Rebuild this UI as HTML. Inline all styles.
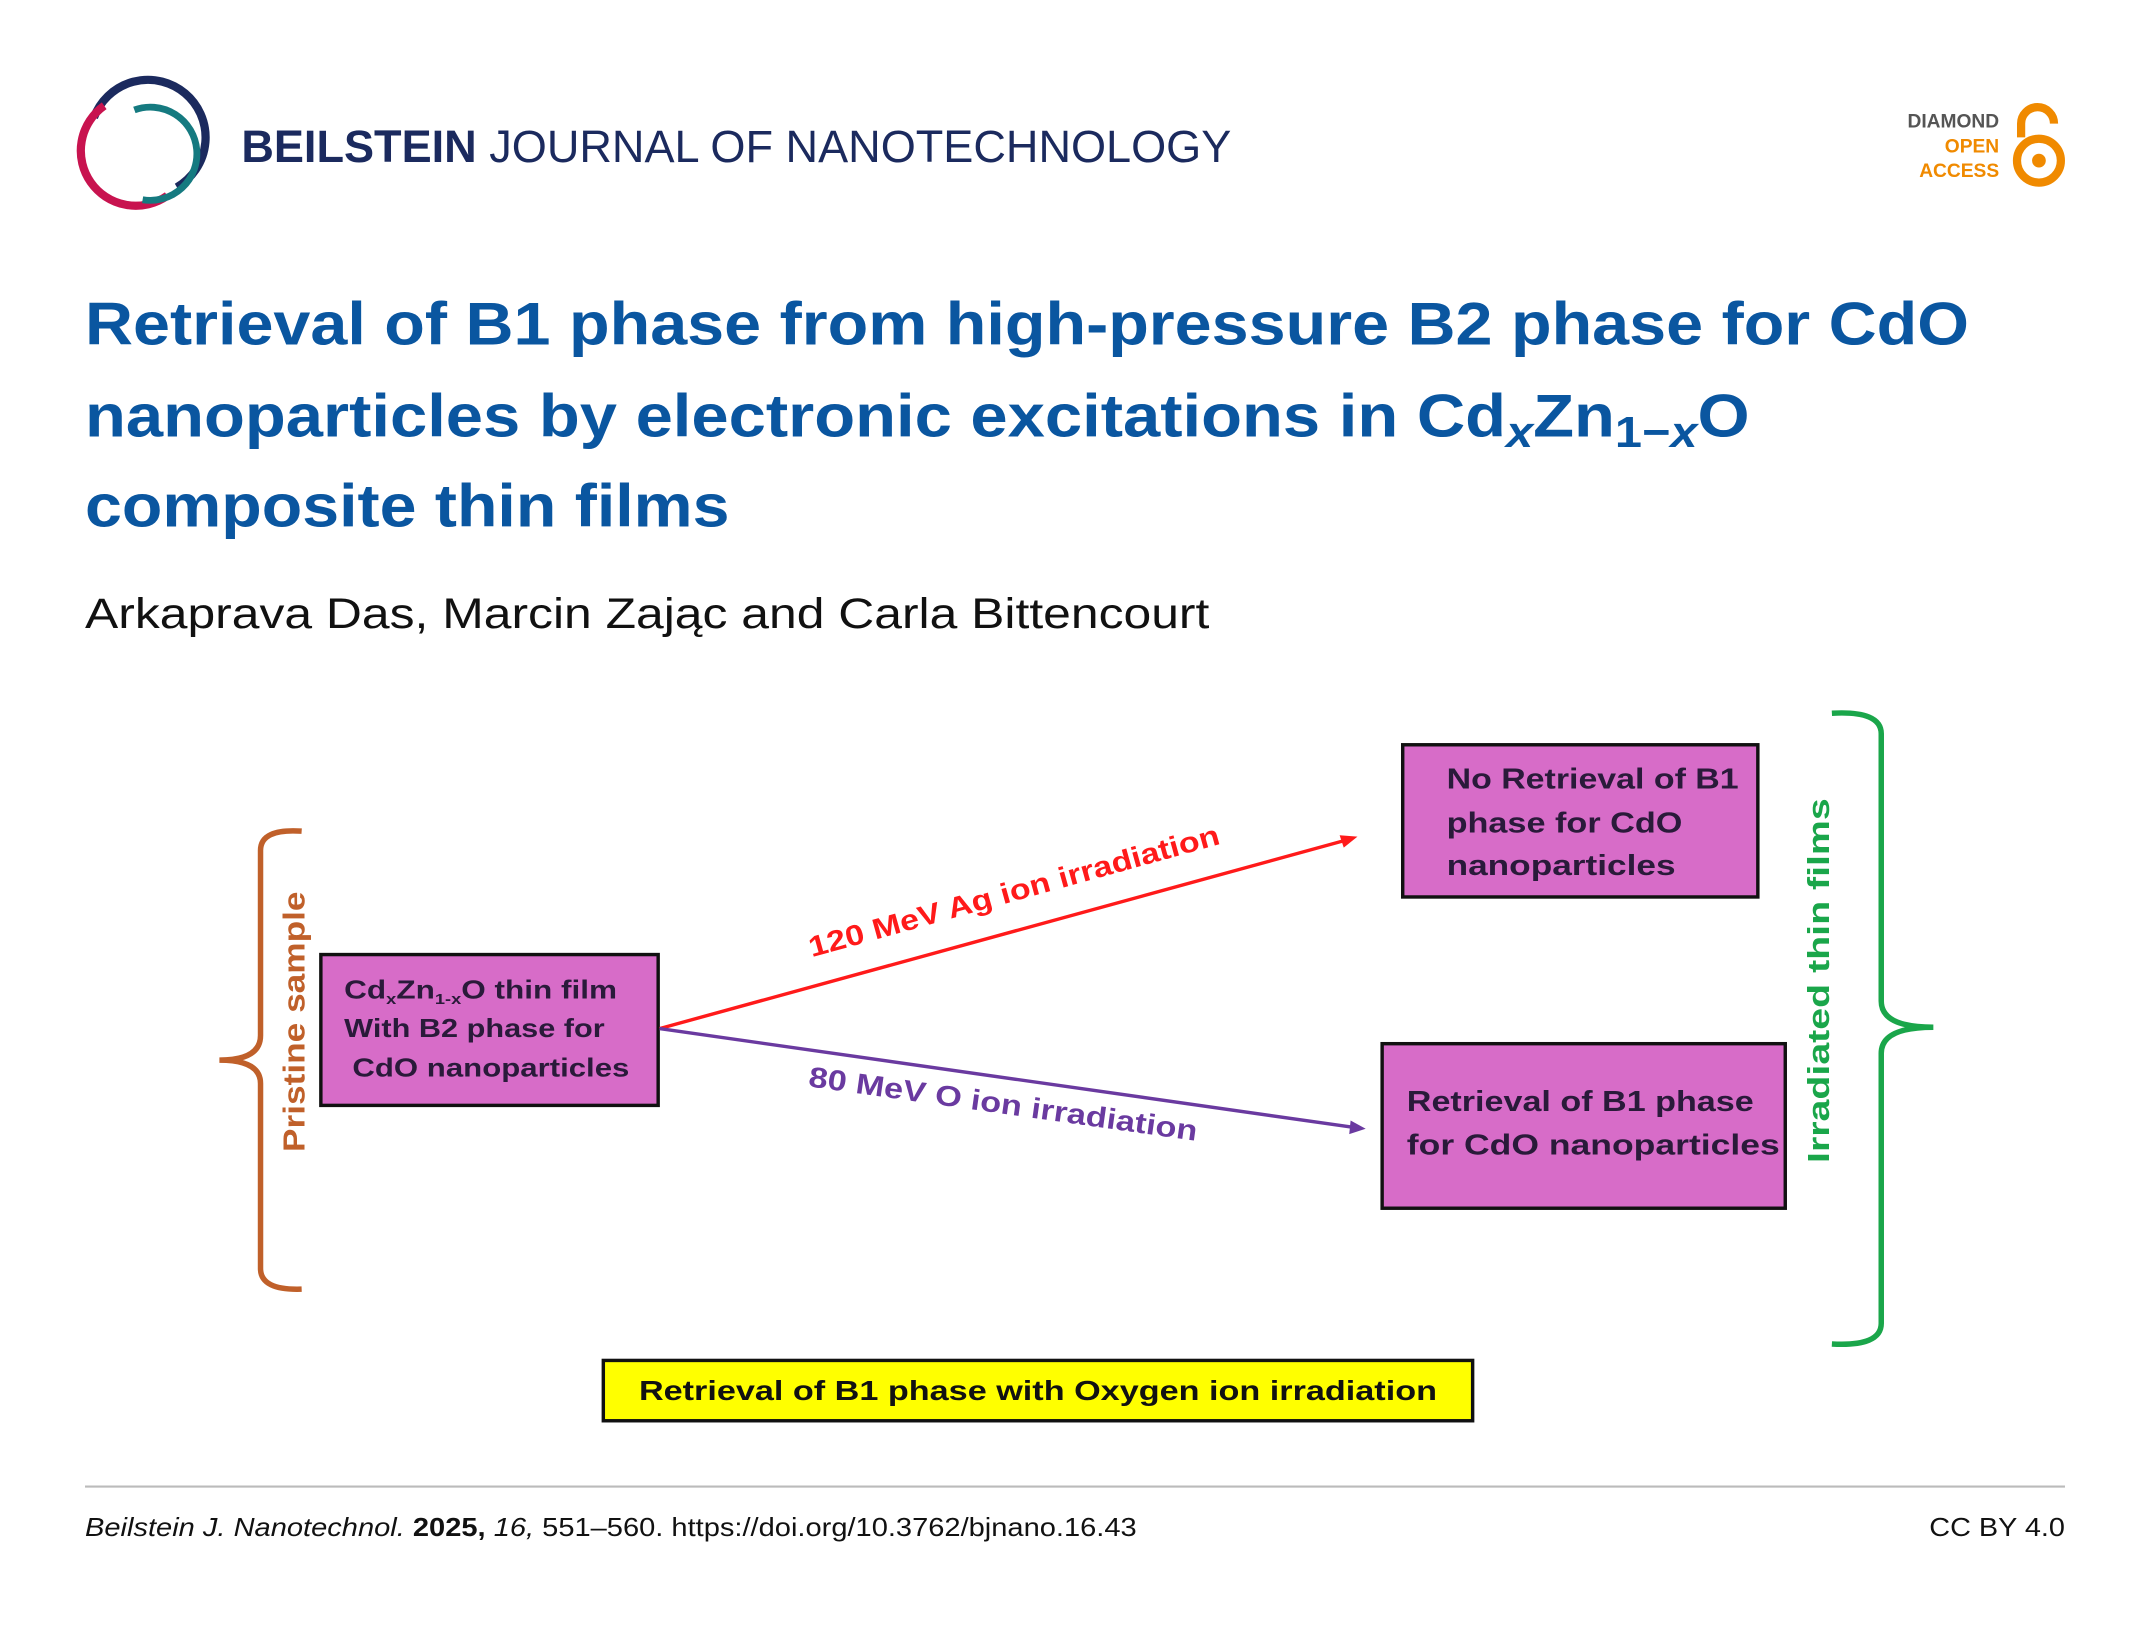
<!DOCTYPE html>
<html><head><meta charset="utf-8"><style>
html,body{margin:0;padding:0;background:#fff;}
svg{display:block;}
text{font-family:"Liberation Sans",sans-serif;}
</style></head><body>
<svg width="2150" height="1639" viewBox="0 0 1568 1195" xmlns="http://www.w3.org/2000/svg">
<g fill="none">
 <path d="M 68.5 85.6 A 42 42 0 1 1 129 136.4" stroke="#1b2a5e" stroke-width="6"/>
 <path d="M 76 77 A 40 40 0 0 0 122 142.6" stroke="#c8134f" stroke-width="6"/>
 <path d="M 98 80 A 34 34 0 1 1 104 145.5" stroke="#157a80" stroke-width="5"/>
</g>
<text x="176" y="118" font-size="33" fill="#1b2a5e" textLength="722" lengthAdjust="spacingAndGlyphs"><tspan font-weight="bold">BEILSTEIN</tspan> JOURNAL OF NANOTECHNOLOGY</text>
<g font-weight="bold" font-size="14" text-anchor="end">
 <text x="1458" y="93" fill="#555">DIAMOND</text>
 <text x="1458" y="111" fill="#f08a00">OPEN</text>
 <text x="1458" y="129" fill="#f08a00">ACCESS</text>
 <path d="M 1474 100 L 1474 90 A 12 12 0 0 1 1498 90" fill="none" stroke="#f08a00" stroke-width="6"/>
 <circle cx="1487" cy="117" r="16" fill="none" stroke="#f08a00" stroke-width="6"/>
 <circle cx="1487" cy="117" r="5" fill="#f08a00"/>
</g>
<g font-size="44" font-weight="bold" fill="#0a56a0">
 <text x="62" y="251" textLength="1374" lengthAdjust="spacingAndGlyphs">Retrieval of B1 phase from high-pressure B2 phase for CdO</text>
 <text x="62" y="318" textLength="1214" lengthAdjust="spacingAndGlyphs">nanoparticles by electronic excitations in Cd<tspan font-style="italic" font-size="32" dy="8">x</tspan><tspan dy="-8">Zn</tspan><tspan font-size="32" dy="8">1−<tspan font-style="italic">x</tspan></tspan><tspan dy="-8">O</tspan></text>
 <text x="62" y="384" textLength="470" lengthAdjust="spacingAndGlyphs">composite thin films</text>
</g>
<text x="62" y="458" font-size="31" fill="#111" textLength="820" lengthAdjust="spacingAndGlyphs">Arkaprava Das, Marcin Zając and Carla Bittencourt</text>
<g>
 <path d="M 220 606 Q 190 604 190 620 L 190 755 Q 190 773 160 773 Q 190 773 190 790 L 190 925 Q 190 941 220 940" fill="none" stroke="#c0602a" stroke-width="4"/>
 <text transform="translate(222,745) rotate(-90)" text-anchor="middle" font-size="22" font-weight="bold" fill="#c0602a" textLength="190" lengthAdjust="spacingAndGlyphs">Pristine sample</text>
 <rect x="234" y="696" width="246" height="110" fill="#d76cc8" stroke="#111" stroke-width="2.5"/>
 <g font-size="19" font-weight="bold" fill="#2a1a3a">
  <text x="251" y="728" textLength="199" lengthAdjust="spacingAndGlyphs">Cd<tspan font-size="11" dy="4">x</tspan><tspan dy="-4">Zn</tspan><tspan font-size="11" dy="4">1-x</tspan><tspan dy="-4">O thin film</tspan></text>
  <text x="251" y="756" textLength="190" lengthAdjust="spacingAndGlyphs">With B2 phase for</text>
  <text x="257" y="785" textLength="202" lengthAdjust="spacingAndGlyphs">CdO nanoparticles</text>
 </g>
 <line x1="481" y1="750" x2="980" y2="613" stroke="#ff1a1a" stroke-width="2.5"/>
 <path d="M 990 610 L 977 609 L 980 618 Z" fill="#ff1a1a"/>
 <text transform="translate(592,698) rotate(-15.5)" font-size="21" font-weight="bold" fill="#ff1a1a" textLength="310" lengthAdjust="spacingAndGlyphs">120 MeV Ag ion irradiation</text>
 <line x1="481" y1="750" x2="987" y2="822" stroke="#6a3aa0" stroke-width="2.5"/>
 <path d="M 996 823 L 985 817 L 984 827 Z" fill="#6a3aa0"/>
 <text transform="translate(589,792) rotate(8)" font-size="21" font-weight="bold" fill="#6a3aa0" textLength="286" lengthAdjust="spacingAndGlyphs">80 MeV O ion irradiation</text>
 <rect x="1023" y="543" width="259" height="111" fill="#d76cc8" stroke="#111" stroke-width="2.5"/>
 <g font-size="21" font-weight="bold" fill="#2a1a3a">
  <text x="1055" y="575" textLength="213" lengthAdjust="spacingAndGlyphs">No Retrieval of B1</text>
  <text x="1055" y="607" textLength="172" lengthAdjust="spacingAndGlyphs">phase for CdO</text>
  <text x="1055" y="638" textLength="167" lengthAdjust="spacingAndGlyphs">nanoparticles</text>
 </g>
 <rect x="1008" y="761" width="294" height="120" fill="#d76cc8" stroke="#111" stroke-width="2.5"/>
 <g font-size="21" font-weight="bold" fill="#2a1a3a">
  <text x="1026" y="810" textLength="253" lengthAdjust="spacingAndGlyphs">Retrieval of B1 phase</text>
  <text x="1026" y="842" textLength="272" lengthAdjust="spacingAndGlyphs">for CdO  nanoparticles</text>
 </g>
 <path d="M 1336 520 Q 1372 518 1372 535 L 1372 730 Q 1372 749 1410 749 Q 1372 749 1372 768 L 1372 965 Q 1372 982 1336 980" fill="none" stroke="#1aa64a" stroke-width="4"/>
 <text transform="translate(1334,715) rotate(-90)" text-anchor="middle" font-size="22" font-weight="bold" fill="#1aa64a" textLength="266" lengthAdjust="spacingAndGlyphs">Irradiated thin films</text>
 <rect x="440" y="992" width="634" height="44" fill="#ffff00" stroke="#111" stroke-width="2.5"/>
 <text x="757" y="1021" text-anchor="middle" font-size="20" font-weight="bold" fill="#111" textLength="582" lengthAdjust="spacingAndGlyphs">Retrieval of B1 phase with Oxygen ion irradiation</text>
</g>
<line x1="62" y1="1084" x2="1506" y2="1084" stroke="#bbb" stroke-width="1.5"/>
<text x="62" y="1120" font-size="19" fill="#111" textLength="767" lengthAdjust="spacingAndGlyphs"><tspan font-style="italic">Beilstein J. Nanotechnol.</tspan> <tspan font-weight="bold">2025,</tspan> <tspan font-style="italic">16,</tspan> 551–560. https://doi.org/10.3762/bjnano.16.43</text>
<text x="1506" y="1120" text-anchor="end" font-size="19" fill="#111" textLength="99" lengthAdjust="spacingAndGlyphs">CC BY 4.0</text>
</svg>
</body></html>
